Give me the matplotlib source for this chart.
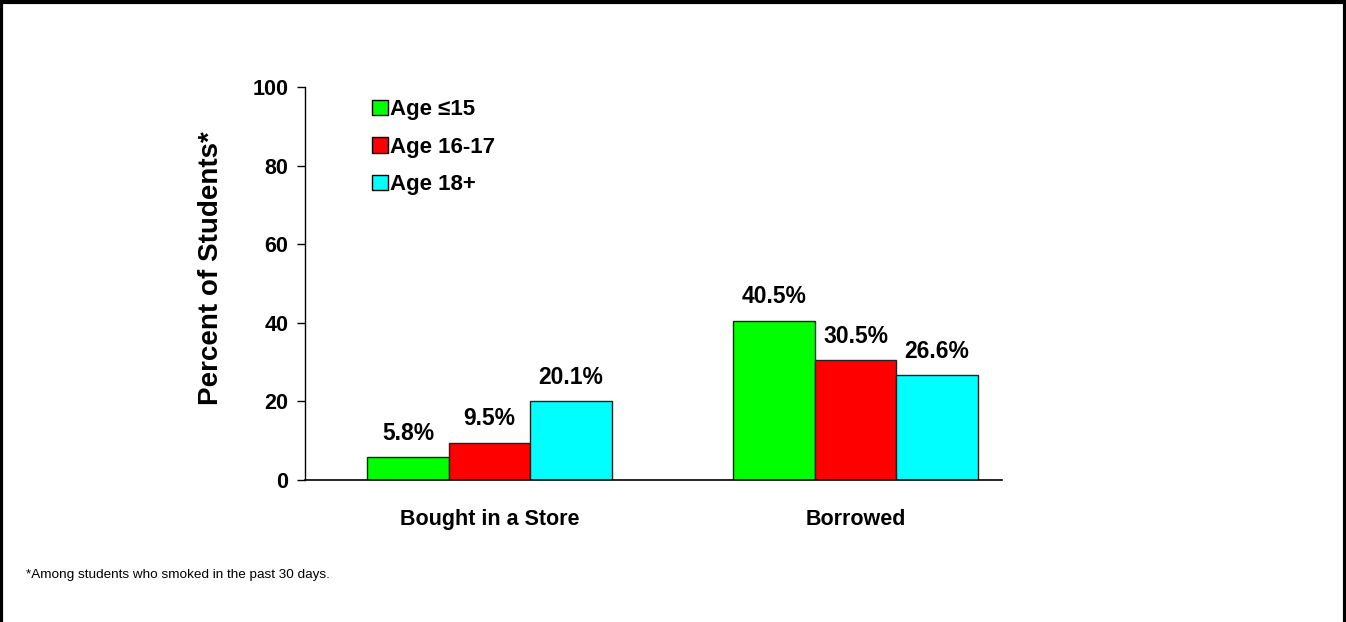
#!/usr/bin/env python
"""Cigarette sources by age group among students who smoked."""

import matplotlib

matplotlib.use("Agg")
import matplotlib.pyplot as plt
import numpy as np
from matplotlib.patches import Rectangle

categories = ["Bought in a Store", "Borrowed"]
age_groups = ["Age \u226415", "Age 16-17", "Age 18+"]
pct_le15 = [5.8, 40.5]
pct_16_17 = [9.5, 30.5]
pct_18_plus = [20.1, 26.6]
y_ticks = [0, 20, 40, 60, 80, 100]
footnote = "*Among students who smoked in the past 30 days."

colors = ["#00ff00", "#ff0000", "#00ffff"]


def main() -> int:
    plt.rcParams["font.family"] = ["Liberation Sans", "DejaVu Sans"]

    fig = plt.figure(figsize=(13.46, 6.22), dpi=100)
    ax = fig.add_axes([0.2266, 0.2283, 0.5178, 0.6318])

    x = np.arange(len(categories))
    width = 0.2227
    series = [pct_le15, pct_16_17, pct_18_plus]
    for i, (vals, label, color) in enumerate(zip(series, age_groups, colors)):
        pos = x + (i - 1) * width
        bars = ax.bar(pos, vals, width, color=color, edgecolor="#222222",
                      linewidth=1.0, label=label, zorder=2)
        for rect, v in zip(bars, vals):
            ax.annotate(f"{v:.1f}%",
                        (rect.get_x() + rect.get_width() / 2, rect.get_height()),
                        xytext=(0, 9), textcoords="offset points",
                        ha="center", va="bottom", fontsize=16.5,
                        fontweight="bold")

    ax.set_xlim(-0.504, 1.40)
    ax.set_ylim(0, 100)
    ax.set_yticks(y_ticks)
    ax.set_yticklabels([str(t) for t in y_ticks], fontsize=15.5,
                       fontweight="bold")
    ax.set_xticks(x)
    ax.set_xticklabels(categories, fontsize=15.5, fontweight="bold")
    ax.tick_params(axis="x", length=0, pad=21)
    ax.tick_params(axis="y", direction="out", length=6, width=1, pad=6)
    ax.set_ylabel("Percent of Students*", fontsize=20, fontweight="bold")
    ax.yaxis.set_label_coords(-0.1162, 0.54)

    for side in ("top", "right"):
        ax.spines[side].set_visible(False)
    ax.spines["left"].set_linewidth(1)
    ax.spines["bottom"].set_linewidth(1.2)

    leg = ax.legend(loc="upper left", bbox_to_anchor=(0.068, 1.02),
                    frameon=False, handlelength=0.7, handleheight=0.7,
                    handletextpad=0.1, labelspacing=0.75,
                    prop={"weight": "bold", "size": 16})
    for h in leg.legend_handles:
        h.set_edgecolor("black")

    fig.text(0.019, 0.075, footnote, fontsize=9.7, ha="left", va="center")

    fig.patches.append(Rectangle((0.0005, -0.1), 0.9985, 1.0975,
                                 transform=fig.transFigure, fill=False,
                                 edgecolor="black", linewidth=3))

    fig.savefig("out.png", dpi=100)
    return 0


if __name__ == "__main__":
    raise SystemExit(main())
